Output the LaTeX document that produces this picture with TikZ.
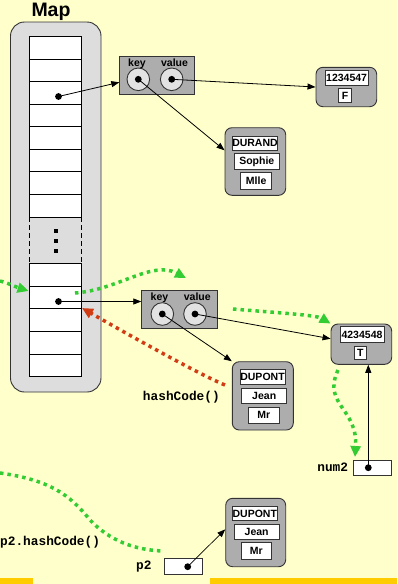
\documentclass[tikz,border=0pt]{standalone}
\usepackage{fontspec}
\setmainfont{Liberation Sans}
\newfontfamily\monofnt{Liberation Mono}
\usetikzlibrary{arrows.meta,calc}
\definecolor{bg}{HTML}{FFFFCC}
\definecolor{gold}{HTML}{FFCC00}
\definecolor{mapgray}{HTML}{DDDDDD}
\definecolor{objgray}{HTML}{ADADAD}
\definecolor{circgray}{HTML}{E2E2E2}
\definecolor{dgreen}{RGB}{51,204,51}
\definecolor{dred}{RGB}{210,60,20}
\definecolor{edge}{HTML}{333333}
\begin{document}
\begin{tikzpicture}[x=1pt,y=-1pt,
  objbox/.style={draw=edge, fill=objgray, rounded corners=7pt, line width=0.9pt, inner sep=0pt},
  field/.style={draw=edge, fill=white, line width=0.9pt, inner sep=0pt, font=\fontsize{10.5}{10.5}\selectfont\bfseries},
  kvbox/.style={draw=edge, fill=objgray, line width=0.9pt, inner sep=0pt, minimum width=75.5pt, minimum height=38pt},
  slot/.style={circle, draw=edge, fill=circgray, line width=0.9pt, minimum size=22.6pt, inner sep=0pt},
  kvlabel/.style={font=\fontsize{10.5}{10.5}\selectfont\bfseries, inner sep=0pt, anchor=base},
  varbox/.style={draw=edge, fill=white, line width=0.9pt, inner sep=0pt},
  monolabel/.style={font=\fontsize{12.8}{12.8}\selectfont\monofnt\bfseries, inner sep=0pt},
  cellbox/.style={draw=black, fill=white, line width=0.9pt},
  ptr/.style={-{Triangle[length=8pt,width=6pt]}, line width=0.8pt, black},
  gflow/.style={draw=dgreen, line width=3.5pt, dash pattern=on 3.5pt off 4pt},
  gtip/.style={-{Triangle[length=11pt,width=10pt]}},
  rflow/.style={draw=dred, line width=3.5pt, dash pattern=on 3.5pt off 4pt, -{Triangle[length=11pt,width=10pt]}},
  pdot/.style={fill=black}
]
\useasboundingbox (0,0) rectangle (397,584);
\fill[bg] (0,0) rectangle (397,584);
\fill[gold] (0,577.7) rectangle (32.7,584);
\fill[gold] (210,577.7) rectangle (397,584);

% Map
\node[font=\fontsize{19.5}{19.5}\selectfont\bfseries, inner sep=0pt, anchor=base] (maptitle) at (51,16.7) {Map};
\draw[draw=edge, fill=mapgray, line width=0.9pt, rounded corners=14pt] (10.5,22) rectangle (101,392);
\foreach \i in {0,...,7} \draw[cellbox] (29,{36.7+\i*22.54}) rectangle ++(52,22.54);
\foreach \i in {0,...,4} \draw[cellbox] (29,{263.3+\i*22.68}) rectangle ++(52,22.68);
\draw[line width=0.9pt, dash pattern=on 5pt off 3pt] (29,217) -- (29,263.3);
\draw[line width=0.9pt, dash pattern=on 5pt off 3pt] (81,217) -- (81,263.3);
\foreach \yy in {230.7,240.7,250.7} \fill (53.7,\yy-2) rectangle ++(4,4);

% pointer dots in cells
\coordinate (c1) at (58.5,96.5);
\coordinate (c2) at (58.5,301.5);
\fill[pdot] (c1) circle (3.4);
\fill[pdot] (c2) circle (3.4);

% key/value box 1
\node[kvbox] (kv1) at (157,75) {};
\node[slot] (k1) at (138.3,79.3) {};
\node[slot] (v1) at (171.7,79.3) {};
\node[kvlabel] (k1l) at (137,66.3) {key};
\node[kvlabel] (v1l) at (174.5,66.3) {value};
\fill[pdot] (k1) circle (3.4);
\fill[pdot] (v1) circle (3.4);

% key/value box 2
\node[kvbox] (kv2) at (179.5,309.85) {};
\node[slot] (k2) at (162.3,314) {};
\node[slot] (v2) at (195,314) {};
\node[kvlabel] (k2l) at (159.5,300.7) {key};
\node[kvlabel] (v2l) at (197.3,300.7) {value};
\fill[pdot] (k2) circle (3.4);
\fill[pdot] (v2) circle (3.4);

% object 1234547 / F
\node[objbox, minimum width=60.7pt, minimum height=39.4pt] (o1) at (346.35,87) {};
\node[field, minimum width=43.3pt, minimum height=14.6pt] (o1a) at (346.65,78) {1234547};
\node[field, minimum width=13.4pt, minimum height=14.4pt] (o1b) at (345,95.5) {F};

% object DURAND
\node[objbox, minimum width=60.7pt, minimum height=67.6pt] (o2) at (255.35,161.5) {};
\node[field, minimum width=45.4pt, minimum height=14pt] (o2a) at (255,143) {DURAND};
\node[field, minimum width=45pt, minimum height=16pt] (o2b) at (256.8,161.3) {Sophie};
\node[field, minimum width=31pt, minimum height=16.7pt] (o2c) at (256.2,180.65) {Mlle};

% object 4234548 / T
\node[objbox, minimum width=60.7pt, minimum height=40.3pt] (o3) at (361.35,344.15) {};
\node[field, minimum width=44pt, minimum height=15.6pt] (o3a) at (362,334.5) {4234548};
\node[field, minimum width=12.7pt, minimum height=12.3pt] (o3b) at (360.35,352.85) {T};

% object DUPONT 1
\node[objbox, minimum width=61pt, minimum height=68.3pt] (o4) at (262.8,395.85) {};
\node[field, minimum width=45pt, minimum height=15pt] (o4a) at (262.5,376.8) {DUPONT};
\node[field, minimum width=45pt, minimum height=15pt] (o4b) at (264.2,395.8) {Jean};
\node[field, minimum width=31pt, minimum height=16pt] (o4c) at (263.8,415.3) {Mr};

% object DUPONT 2
\node[objbox, minimum width=60pt, minimum height=68.4pt] (o5) at (255.7,532.5) {};
\node[field, minimum width=45pt, minimum height=14pt] (o5a) at (254.8,513.7) {DUPONT};
\node[field, minimum width=44.7pt, minimum height=15pt] (o5b) at (256.65,531.5) {Jean};
\node[field, minimum width=30.7pt, minimum height=17pt] (o5c) at (256.35,550.8) {Mr};

% variables
\node[varbox, minimum width=37.7pt, minimum height=15pt] (num2) at (372.15,467.5) {};
\node[monolabel, anchor=east] (num2l) at (348.3,467.3) {num2};
\coordinate (n2d) at (368.3,467.7);
\fill[pdot] (n2d) circle (3.4);
\node[varbox, minimum width=38pt, minimum height=15.7pt] (p2) at (183.3,566.15) {};
\node[monolabel, anchor=east] (p2l) at (151.7,566.7) {p2};
\coordinate (p2d) at (187.7,566.7);
\fill[pdot] (p2d) circle (3.4);

\node[monolabel, anchor=east] (hc) at (220,396.7) {hashCode()};
\node[monolabel, anchor=west] (phc) at (0,541.7) {p2.hashCode()};

% black pointers
\draw[ptr] (c1) -- (119.3,82.3) coordinate (kv1in);
\draw[ptr] (c2) -- (c2 -| kv2.west);
\draw[ptr] (v1.center) -- (o1.west);
\draw[ptr] (k1.center) -- (o2.160);
\draw[ptr] (v2.center) -- (o3.170);
\draw[ptr] (k2.center) -- (o4.north west);
\draw[ptr] (n2d) -- (n2d |- o3.south);
\draw[ptr, line width=0.7pt] (p2d) -- (o5.174);

% green dotted flows
\coordinate (g1s) at (0,281);
\coordinate (g1e) at (28.5,291);
\draw[gflow, gtip] (g1s) .. controls (8,283) and (16,287) .. (g1e);
\coordinate (g2s) at (75,293);
\coordinate (g2e) at (186,278);
\draw[gflow, gtip] (g2s) .. controls (118,290) and (152,260) .. (g2e);
\coordinate (g3s) at (233,309);
\draw[gflow, gtip] (g3s) .. controls (280,313) and (316,315) .. (o3.north west);
\coordinate (g4s) at (338,370);
\coordinate (g4e) at (355,457);
\draw[gflow, gtip] (g4s) .. controls (322,405) and (358,408) .. (g4e);
\coordinate (g5s) at (0,473);
\coordinate (g5e) at (163,551);
\draw[gflow] (g5s) .. controls (50,480) and (70,495) .. (90,520) .. controls (110,541) and (135,550) .. (g5e);

% red dotted flow
\coordinate (r1s) at (225,385);
\coordinate (r1e) at (82,308);
\draw[rflow] (r1s) .. controls (200,375) and (120,330) .. (r1e);
\end{tikzpicture}
\end{document}
